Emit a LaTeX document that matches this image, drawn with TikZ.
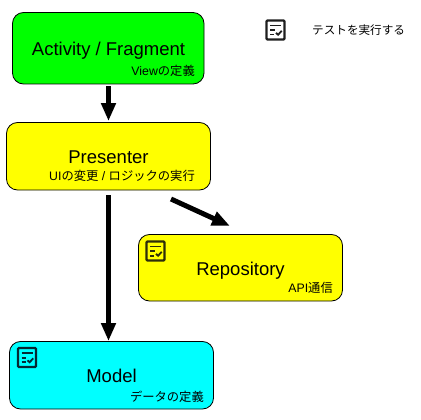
\documentclass[tikz,border=0pt]{standalone}
\usepackage{fontspec}
\setmainfont{Liberation Sans}
\newfontfamily\cjk{Noto Sans CJK JP}
\usetikzlibrary{arrows.meta}
\definecolor{puregreen}{RGB}{0,255,0}
\definecolor{pureyellow}{RGB}{255,255,0}
\definecolor{purecyan}{RGB}{0,255,255}
\definecolor{iconblack}{RGB}{30,30,30}
\definecolor{iconyellow}{RGB}{45,45,10}
\definecolor{iconcyan}{RGB}{5,40,50}
\tikzset{
  x=1pt,y=-1pt,
  boxnode/.style={draw=black,line width=0.8pt,rounded corners=11pt,inner sep=0pt},
  titletext/.style={font=\fontsize{18.5}{20}\selectfont,inner sep=0pt,anchor=base,text=black},
  subtext/.style={font=\fontsize{12.3}{14}\selectfont,inner sep=0pt,anchor=base east,text=black},
  flow/.style={line width=5pt,-{Triangle[length=18pt,width=14pt]}},
  checkicon/.pic={
    \draw[line width=2.3pt,rounded corners=1pt,draw=#1] (-9,-9.5) rectangle (9,9.5);
    \draw[line width=1.8pt,draw=#1] (-5.5,-4.5) -- (5.5,-4.5) (-5.5,0.2) -- (-1,0.2) (-5.5,4.6) -- (-1.5,4.6);
    \draw[line width=1.8pt,draw=#1] (0.5,2.8) -- (2.6,4.8) -- (6.2,0.8);
  }
}
\begin{document}
\begin{tikzpicture}
\useasboundingbox (0,0) rectangle (421,420);
\node[boxnode,fill=puregreen,minimum width=191.5pt,minimum height=71.5pt] (A) at (108.25,48.25) {};
\node[boxnode,fill=pureyellow,minimum width=204pt,minimum height=67.5pt] (P) at (108.5,156.25) {};
\node[boxnode,fill=pureyellow,minimum width=204pt,minimum height=66.5pt] (R) at (240.5,267.75) {};
\node[boxnode,fill=purecyan,minimum width=204pt,minimum height=67.5pt] (M) at (111.5,375.25) {};
\node[titletext] (at) at (108.5,55.5) {Activity / Fragment};
\node[subtext] (as) at (195,76) {View{\cjk の定義}};
\node[titletext] (pt) at (108.5,163.5) {Presenter};
\node[subtext] (ps) at (195,181) {UI{\cjk の変更} / {\cjk ロジックの実行}};
\node[titletext] (rt) at (240.5,275) {Repository};
\node[subtext] (rs) at (333,292) {API{\cjk 通信}};
\node[titletext] (mt) at (111.5,382) {Model};
\node[subtext] (ms) at (204,401) {{\cjk データの定義}};
\node[font=\fontsize{11.6}{13}\selectfont\cjk,inner sep=0pt,anchor=west] (lg) at (312,30) {テストを実行する};
\pic at (275.5,30) {checkicon=iconblack};
\pic at (155.5,251) {checkicon=iconyellow};
\pic at (27,357.5) {checkicon=iconcyan};
\coordinate (pa) at (171,199);
\coordinate (ra) at (230,226);
\draw[flow,shorten <=2pt,shorten >=1pt] (A.south -| P.north) -- (P.north);
\draw[flow,shorten <=5pt] (P.south) -- (M.north -| P.south);
\draw[flow] (pa) -- (ra);
\end{tikzpicture}
\end{document}
